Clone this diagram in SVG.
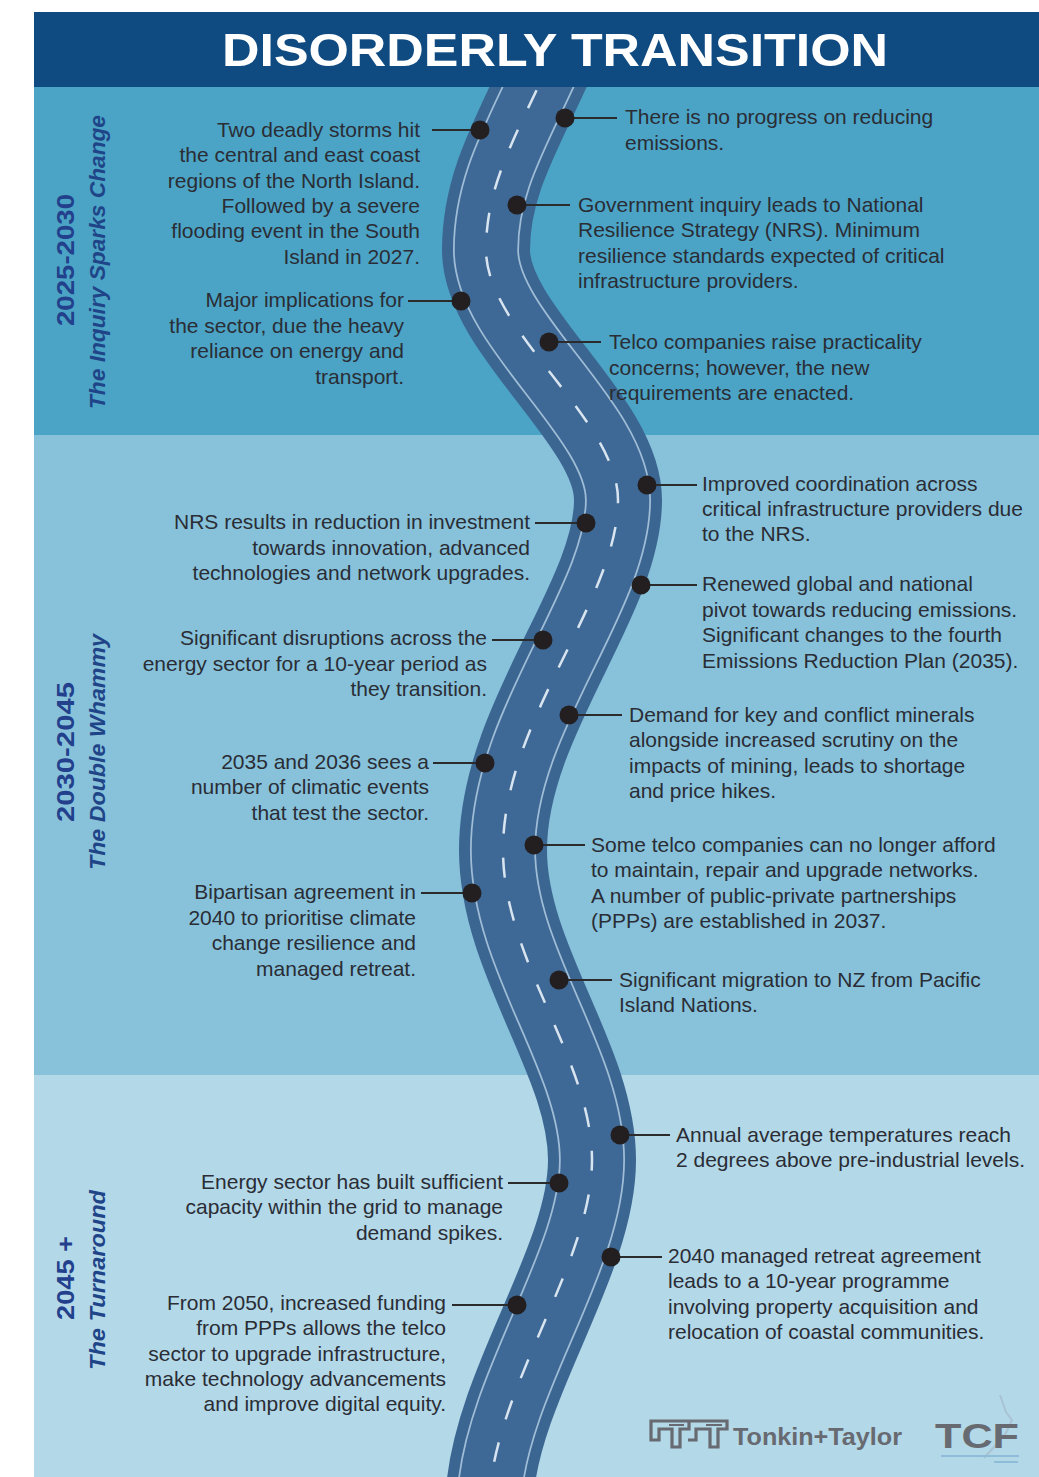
<svg xmlns="http://www.w3.org/2000/svg" width="1039" height="1477" viewBox="0 0 1039 1477">
  <style>
    .body { font-family: "Liberation Sans", Arial, sans-serif; font-size: 21px; fill: #2a2d35; }
    .l { text-anchor: end; }
    .period { font-family: "Liberation Sans", Arial, sans-serif; font-weight: bold; font-size: 24px; fill: #22408c; text-anchor: middle; }
    .theme { font-family: "Liberation Sans", Arial, sans-serif; font-weight: bold; font-style: italic; font-size: 22px; fill: #1f4588; text-anchor: middle; }
    .dot { fill: #231f20; }
    .lead { stroke: #2b2b2b; stroke-width: 2; fill: none; }
    .logo { fill: #676a70; font-family: "Liberation Sans", Arial, sans-serif; font-weight: bold; }
  </style>
  <defs>
    <path id="road" d="M 555 50 C 520 130, 486 180, 486 250 C 486 330, 618 420, 618 500 C 618 600, 503 720, 503 850 C 503 960, 592 1060, 592 1160 C 592 1260, 500 1380, 490 1490"/>
  </defs>

  <!-- page background and period bands -->
  <rect x="0" y="0" width="1039" height="1477" fill="#ffffff"/>
  <rect x="34" y="87" width="1005" height="348" fill="#4ba4c5"/>
  <rect x="34" y="435" width="1005" height="640" fill="#87c2da"/>
  <rect x="34" y="1075" width="1005" height="402" fill="#b3d8e8"/>

  <!-- winding road -->
  <g id="road-art">
    <use href="#road" fill="none" stroke="#3c6692" stroke-width="88"/>
    <use href="#road" fill="none" stroke="#9fbdd6" stroke-width="66"/>
    <use href="#road" fill="none" stroke="#3e6895" stroke-width="62.5"/>
    <use href="#road" fill="none" stroke="#d8e5f0" stroke-width="2.5" stroke-dasharray="20 24"/>
  </g>

  <!-- header -->
  <rect x="34" y="12" width="1005" height="75" fill="#0f4b81"/>
  <text x="555" y="66" text-anchor="middle" textLength="666" lengthAdjust="spacingAndGlyphs" font-family="'Liberation Sans', Arial, sans-serif" font-weight="bold" font-size="47" fill="#ffffff">DISORDERLY TRANSITION</text>

  <!-- period labels -->
  <g id="period-1">
    <text class="period" transform="translate(74 260) rotate(-90)" textLength="132" lengthAdjust="spacingAndGlyphs">2025-2030</text>
    <text class="theme" transform="translate(105 262) rotate(-90)" textLength="294" lengthAdjust="spacingAndGlyphs">The Inquiry Sparks Change</text>
  </g>
  <g id="period-2">
    <text class="period" transform="translate(74 752) rotate(-90)" textLength="140" lengthAdjust="spacingAndGlyphs">2030-2045</text>
    <text class="theme" transform="translate(105 752) rotate(-90)" textLength="236" lengthAdjust="spacingAndGlyphs">The Double Whammy</text>
  </g>
  <g id="period-3">
    <text class="period" transform="translate(74 1278) rotate(-90)" textLength="84" lengthAdjust="spacingAndGlyphs">2045 +</text>
    <text class="theme" transform="translate(105 1280) rotate(-90)" textLength="180" lengthAdjust="spacingAndGlyphs">The Turnaround</text>
  </g>

  <!-- leader lines from road markers to event texts -->
  <g id="connectors">
    <line class="lead" x1="432" y1="130" x2="480" y2="130"/>
    <line class="lead" x1="408" y1="301" x2="461" y2="301"/>
    <line class="lead" x1="535" y1="523" x2="586" y2="523"/>
    <line class="lead" x1="492" y1="640" x2="543" y2="640"/>
    <line class="lead" x1="433" y1="763" x2="485" y2="763"/>
    <line class="lead" x1="421" y1="893" x2="472" y2="893"/>
    <line class="lead" x1="508" y1="1183" x2="559" y2="1183"/>
    <line class="lead" x1="452" y1="1305" x2="517" y2="1305"/>
    <line class="lead" x1="565" y1="118" x2="617" y2="118"/>
    <line class="lead" x1="517" y1="205" x2="570" y2="205"/>
    <line class="lead" x1="549" y1="342" x2="601" y2="342"/>
    <line class="lead" x1="647" y1="485" x2="697" y2="485"/>
    <line class="lead" x1="641" y1="585" x2="697" y2="585"/>
    <line class="lead" x1="569" y1="715" x2="622" y2="715"/>
    <line class="lead" x1="534" y1="845" x2="585" y2="845"/>
    <line class="lead" x1="559" y1="980" x2="612" y2="980"/>
    <line class="lead" x1="620" y1="1135" x2="670" y2="1135"/>
    <line class="lead" x1="611" y1="1257" x2="662" y2="1257"/>
  </g>

  <!-- events, left of the road -->
  <g id="event-storms">
    <circle class="dot" cx="480" cy="130" r="9.5"/>
    <text class="body l" y="137"><tspan x="420">Two deadly storms hit</tspan><tspan x="420" dy="25.3">the central and east coast</tspan><tspan x="420" dy="25.3">regions of the North Island.</tspan><tspan x="420" dy="25.3">Followed by a severe</tspan><tspan x="420" dy="25.3">flooding event in the South</tspan><tspan x="420" dy="25.3">Island in 2027.</tspan></text>
  </g>
  <g id="event-implications">
    <circle class="dot" cx="461" cy="301" r="9.5"/>
    <text class="body l" y="307"><tspan x="404">Major implications for</tspan><tspan x="404" dy="25.5">the sector, due the heavy</tspan><tspan x="404" dy="25.5">reliance on energy and</tspan><tspan x="404" dy="25.5">transport.</tspan></text>
  </g>
  <g id="event-nrs-investment">
    <circle class="dot" cx="586" cy="523" r="9.5"/>
    <text class="body l" y="529"><tspan x="530">NRS results in reduction in investment</tspan><tspan x="530" dy="25.5">towards innovation, advanced</tspan><tspan x="530" dy="25.5">technologies and network upgrades.</tspan></text>
  </g>
  <g id="event-energy-disruption">
    <circle class="dot" cx="543" cy="640" r="9.5"/>
    <text class="body l" y="645"><tspan x="487">Significant disruptions across the</tspan><tspan x="487" dy="25.5">energy sector for a 10-year period as</tspan><tspan x="487" dy="25.5">they transition.</tspan></text>
  </g>
  <g id="event-climatic">
    <circle class="dot" cx="485" cy="763" r="9.5"/>
    <text class="body l" y="769"><tspan x="429">2035 and 2036 sees a</tspan><tspan x="429" dy="25.3">number of climatic events</tspan><tspan x="429" dy="25.3">that test the sector.</tspan></text>
  </g>
  <g id="event-bipartisan">
    <circle class="dot" cx="472" cy="893" r="9.5"/>
    <text class="body l" y="899"><tspan x="416">Bipartisan agreement in</tspan><tspan x="416" dy="25.5">2040 to prioritise climate</tspan><tspan x="416" dy="25.5">change resilience and</tspan><tspan x="416" dy="25.5">managed retreat.</tspan></text>
  </g>
  <g id="event-grid-capacity">
    <circle class="dot" cx="559" cy="1183" r="9.5"/>
    <text class="body l" y="1189"><tspan x="503">Energy sector has built sufficient</tspan><tspan x="503" dy="25.3">capacity within the grid to manage</tspan><tspan x="503" dy="25.3">demand spikes.</tspan></text>
  </g>
  <g id="event-ppp-funding">
    <circle class="dot" cx="517" cy="1305" r="9.5"/>
    <text class="body l" y="1310"><tspan x="446">From 2050, increased funding</tspan><tspan x="446" dy="25.3">from PPPs allows the telco</tspan><tspan x="446" dy="25.3">sector to upgrade infrastructure,</tspan><tspan x="446" dy="25.3">make technology advancements</tspan><tspan x="446" dy="25.3">and improve digital equity.</tspan></text>
  </g>

  <!-- events, right of the road -->
  <g id="event-no-progress">
    <circle class="dot" cx="565" cy="118" r="9.5"/>
    <text class="body" y="124"><tspan x="625">There is no progress on reducing</tspan><tspan x="625" dy="25.5">emissions.</tspan></text>
  </g>
  <g id="event-inquiry">
    <circle class="dot" cx="517" cy="205" r="9.5"/>
    <text class="body" y="212"><tspan x="578">Government inquiry leads to National</tspan><tspan x="578" dy="25.3">Resilience Strategy (NRS). Minimum</tspan><tspan x="578" dy="25.3">resilience standards expected of critical</tspan><tspan x="578" dy="25.3">infrastructure providers.</tspan></text>
  </g>
  <g id="event-telco-concerns">
    <circle class="dot" cx="549" cy="342" r="9.5"/>
    <text class="body" y="349"><tspan x="609">Telco companies raise practicality</tspan><tspan x="609" dy="25.5">concerns; however, the new</tspan><tspan x="609" dy="25.5">requirements are enacted.</tspan></text>
  </g>
  <g id="event-coordination">
    <circle class="dot" cx="647" cy="485" r="9.5"/>
    <text class="body" y="491"><tspan x="702">Improved coordination across</tspan><tspan x="702" dy="25">critical infrastructure providers due</tspan><tspan x="702" dy="25">to the NRS.</tspan></text>
  </g>
  <g id="event-emissions-pivot">
    <circle class="dot" cx="641" cy="585" r="9.5"/>
    <text class="body" y="591"><tspan x="702">Renewed global and national</tspan><tspan x="702" dy="25.7">pivot towards reducing emissions.</tspan><tspan x="702" dy="25.7">Significant changes to the fourth</tspan><tspan x="702" dy="25.7">Emissions Reduction Plan (2035).</tspan></text>
  </g>
  <g id="event-minerals">
    <circle class="dot" cx="569" cy="715" r="9.5"/>
    <text class="body" y="722"><tspan x="629">Demand for key and conflict minerals</tspan><tspan x="629" dy="25.3">alongside increased scrutiny on the</tspan><tspan x="629" dy="25.3">impacts of mining, leads to shortage</tspan><tspan x="629" dy="25.3">and price hikes.</tspan></text>
  </g>
  <g id="event-ppps">
    <circle class="dot" cx="534" cy="845" r="9.5"/>
    <text class="body" y="852"><tspan x="591">Some telco companies can no longer afford</tspan><tspan x="591" dy="25.3">to maintain, repair and upgrade networks.</tspan><tspan x="591" dy="25.3">A number of public-private partnerships</tspan><tspan x="591" dy="25.3">(PPPs) are established in 2037.</tspan></text>
  </g>
  <g id="event-migration">
    <circle class="dot" cx="559" cy="980" r="9.5"/>
    <text class="body" y="987"><tspan x="619">Significant migration to NZ from Pacific</tspan><tspan x="619" dy="25">Island Nations.</tspan></text>
  </g>
  <g id="event-temperature">
    <circle class="dot" cx="620" cy="1135" r="9.5"/>
    <text class="body" y="1142"><tspan x="676">Annual average temperatures reach</tspan><tspan x="676" dy="25">2 degrees above pre-industrial levels.</tspan></text>
  </g>
  <g id="event-managed-retreat">
    <circle class="dot" cx="611" cy="1257" r="9.5"/>
    <text class="body" y="1263"><tspan x="668">2040 managed retreat agreement</tspan><tspan x="668" dy="25.3">leads to a 10-year programme</tspan><tspan x="668" dy="25.3">involving property acquisition and</tspan><tspan x="668" dy="25.3">relocation of coastal communities.</tspan></text>
  </g>

  <!-- partner marks -->
  <g id="tonkin-taylor">
    <path d="M651 1421 H689 V1429 H680 V1447 H672 V1429 H659 V1440 H651 Z M684 1421 H727 V1429 H718 V1447 H710 V1429 H696 V1440 H688" fill="none" stroke="#676a70" stroke-width="3.2" stroke-linejoin="miter"/>
    <path d="M669 1425 H684 M706 1425 H722" stroke="#676a70" stroke-width="2"/>
    <text class="logo" x="733" y="1445" font-size="24" textLength="169" lengthAdjust="spacingAndGlyphs">Tonkin+Taylor</text>
  </g>
  <g id="tcf">
    <path d="M1000 1395 L1006 1412 L1012 1420 L1006 1433 L995 1446 L984 1458" fill="none" stroke="#a9c3d3" stroke-width="2"/>
    <text class="logo" x="935" y="1448" font-size="35" textLength="84" lengthAdjust="spacingAndGlyphs">TCF</text>
    <rect x="941" y="1455" width="78" height="2" fill="#8fbcd8"/>
    <rect x="994" y="1461" width="24" height="2" fill="#8fbcd8"/>
  </g>
</svg>
